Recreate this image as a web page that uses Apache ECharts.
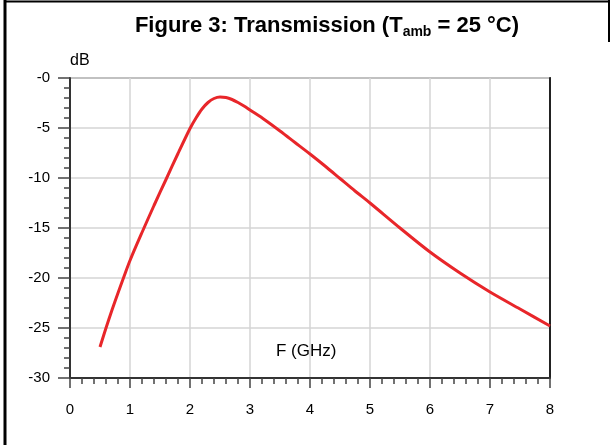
<!DOCTYPE html>
<html>
<head>
<meta charset="utf-8">
<script src="https://cdn.jsdelivr.net/npm/echarts@6/dist/echarts.min.js"></script>
<style>
  html, body { margin: 0; padding: 0; background: #fff; }
  #trans_chart { width: 615px; height: 445px; }
</style>
</head>
<body>
<div id="trans_chart"></div>
<script>
// transmission curve (F in GHz, dB)
var freq_list = [0.5, 0.6, 0.7, 0.8, 0.9, 1.0, 1.2, 1.4, 1.6, 1.8, 2.0, 2.1, 2.2, 2.3, 2.4, 2.5, 2.6, 2.7, 2.8, 2.9, 3.0, 3.25, 3.5, 3.75, 4.0, 4.25, 4.5, 4.75, 5.0, 5.5, 6.0, 6.5, 7.0, 7.5, 8.0];
var db_list = [-26.9, -25.0, -23.2, -21.5, -19.85, -18.25, -15.45, -12.75, -10.15, -7.55, -5.05, -4.0, -3.1, -2.45, -2.05, -1.9, -1.95, -2.15, -2.45, -2.8, -3.2, -4.2, -5.3, -6.45, -7.6, -8.8, -10.05, -11.3, -12.5, -15.0, -17.4, -19.5, -21.4, -23.1, -24.8];
var x_ticks = [0, 1, 2, 3, 4, 5, 6, 7, 8];
var y_ticks = [0, -5, -10, -15, -20, -25, -30];

var line_data = freq_list.map(function (f, i) { return [f, db_list[i]]; });

var trans_chart = echarts.init(document.getElementById('trans_chart'));
trans_chart.setOption({
  animation: false,
  textStyle: { fontFamily: 'Liberation Sans, Arial, sans-serif' },
  title: {
    text: 'Figure 3: Transmission (T{sub|amb} = 25 °C)',
    left: 322,
    top: 8,
    textAlign: 'center',
    textStyle: {
      fontSize: 22,
      fontWeight: 'bold',
      color: '#000',
      lineHeight: 26,
      rich: {
        sub: { fontSize: 14, fontWeight: 'bold', color: '#000', lineHeight: 21, verticalAlign: 'bottom' }
      }
    }
  },
  grid: {
    left: 70, top: 78, width: 480, height: 300,
    show: true, borderColor: '#888', borderWidth: 2
  },
  xAxis: {
    type: 'value',
    min: x_ticks[0],
    max: x_ticks[x_ticks.length - 1],
    interval: 1,
    axisLine: { onZero: false, lineStyle: { color: '#333', width: 2 } },
    axisTick: { length: 10, lineStyle: { color: '#444', width: 1.5 } },
    minorTick: { show: true, splitNumber: 5, length: 6, lineStyle: { color: '#444', width: 1.5 } },
    splitLine: { lineStyle: { color: '#d4d4d4', width: 1.5 } },
    axisLabel: { margin: 24, fontSize: 15, color: '#000' }
  },
  yAxis: [{
    type: 'value',
    min: y_ticks[y_ticks.length - 1],
    max: y_ticks[0],
    interval: 5,
    axisLine: { show: true, onZero: false, lineStyle: { color: '#333', width: 2 } },
    axisTick: { show: true, length: 12, lineStyle: { color: '#444', width: 1.5 } },
    minorTick: { show: true, splitNumber: 5, length: 6, lineStyle: { color: '#444', width: 1.5 } },
    splitLine: { lineStyle: { color: '#d4d4d4', width: 1.5 } },
    axisLabel: {
      margin: 20, fontSize: 15, color: '#000',
      formatter: function (v) { return v === 0 ? '-0' : String(v); }
    }
  }, {
    // right frame edge only
    type: 'value',
    position: 'right',
    min: -30, max: 0,
    axisLine: { show: true, onZero: false, lineStyle: { color: '#222', width: 2 } },
    axisTick: { show: false },
    axisLabel: { show: false },
    splitLine: { show: false }
  }],
  graphic: [
    { type: 'text', left: 70, top: 53, style: { text: 'dB', fontSize: 16, fill: '#000', fontFamily: 'Liberation Sans, Arial, sans-serif' } },
    { type: 'text', left: 276, top: 343, style: { text: 'F (GHz)', fontSize: 17, fill: '#000', fontFamily: 'Liberation Sans, Arial, sans-serif' } },
    // page frame
    { type: 'line', shape: { x1: 5, y1: 0, x2: 5, y2: 445 }, style: { stroke: '#000', lineWidth: 3 } },
    { type: 'line', shape: { x1: 5, y1: 1.5, x2: 610, y2: 1.5 }, style: { stroke: '#000', lineWidth: 2 } },
    { type: 'line', shape: { x1: 609, y1: 0, x2: 609, y2: 42 }, style: { stroke: '#000', lineWidth: 2 } }
  ],
  series: [{
    type: 'line',
    data: line_data,
    smooth: 0.3,
    showSymbol: false,
    lineStyle: { color: '#e8262a', width: 3 }
  }]
});
</script>
</body>
</html>
